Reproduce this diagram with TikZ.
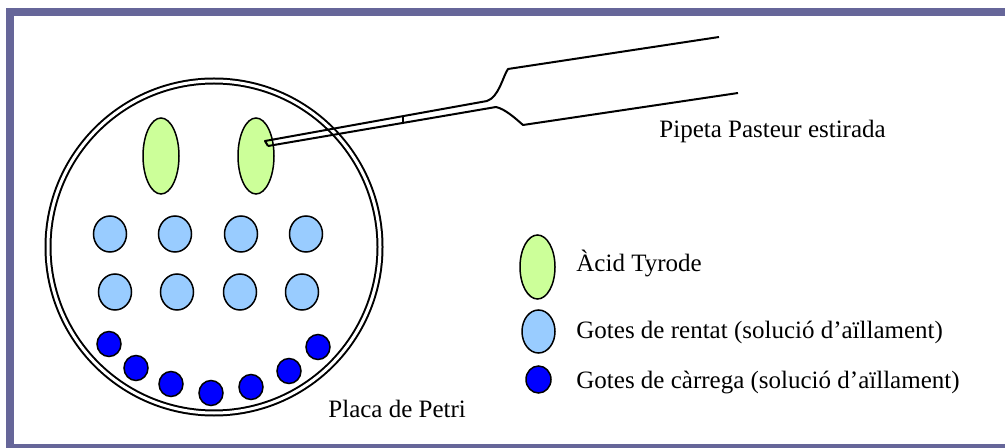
\documentclass[tikz,border=0pt]{standalone}
\usepackage{fontspec}
\setmainfont{Liberation Serif}
\usetikzlibrary{shapes.geometric}
\definecolor{framec}{RGB}{102, 102, 153}
\definecolor{acidc}{RGB}{204, 255, 153}
\definecolor{rentc}{RGB}{153, 204, 255}
\definecolor{carrc}{RGB}{0, 0, 255}

\begin{document}
\begin{tikzpicture}[x=0.5pt, y=-0.5pt,
        acid/.style={ellipse, draw, line width=0.75pt, fill=acidc, minimum width=18pt, minimum height=38pt, inner sep=0pt},
        rent/.style={ellipse, draw, line width=0.75pt, fill=rentc, minimum width=16.5pt, minimum height=18pt, inner sep=0pt},
        carr/.style={ellipse, draw, line width=0.75pt, fill=carrc, minimum width=12pt, minimum height=12.5pt, inner sep=0pt},
        pip/.style={line width=1pt, line join=round},
        lbl/.style={font=\fontsize{12.5}{15}\selectfont, inner sep=0pt, anchor=base west}
      ]
        \useasboundingbox[fill=white] (0,0) rectangle (1005,448);
        \draw[framec, line width=4pt] (10,12) rectangle (1010,448);
        % placa de Petri
        \node[circle, draw, line width=1pt, double, double distance=1.5pt, minimum size=166pt, inner sep=0pt] (petri) at (214,247) {};
        % gotes
        \node[acid] (a1) at (161,156) {};
        \node[acid] (a2) at (256,156) {};
        \foreach \x [count=\i] in {110,175,241,306} { \node[rent] (r\i) at (\x,234) {}; }
        \foreach \x [count=\i] in {115,177,240,302} { \node[rent] (s\i) at (\x,292) {}; }
        \foreach \x/\y [count=\i] in {109/344,136/368,171/384,211/393,251/387,289/371,318/347} { \node[carr] (c\i) at (\x,\y) {}; }
        % pipeta
        \coordinate (tipu) at (265,141);
        \coordinate (tipl) at (268,146);
        \draw[pip] (tipl) -- (tipu) -- (487,101) .. controls (499,97) and (503,76) .. (508,69) -- (719,37);
        \draw[pip] (tipl) -- (496,107) .. controls (505,109) and (515,118) .. (523,125) -- (738,93);
        \draw[pip] (403,116) -- (403,123);
        \node[lbl] (pip) at (659,138) {Pipeta Pasteur estirada};
        \node[lbl] (plac) at (328,417) {Placa de Petri};
        % llegenda
        \node[acid, minimum width=17.5pt, minimum height=32pt] (la) at (537.5,267) {};
        \node[rent, minimum height=21.5pt] (lr) at (538.5,331.5) {};
        \node[carr, minimum width=12.5pt, minimum height=13.5pt] (lc) at (538.5,379.5) {};
        \node[lbl] (ta) at (576,272) {Àcid Tyrode};
        \node[lbl] (tr) at (576,338) {Gotes de rentat (solució d’aïllament)};
        \node[lbl] (tc) at (576,388) {Gotes de càrrega (solució d’aïllament)};
      \end{tikzpicture}
\end{document}
